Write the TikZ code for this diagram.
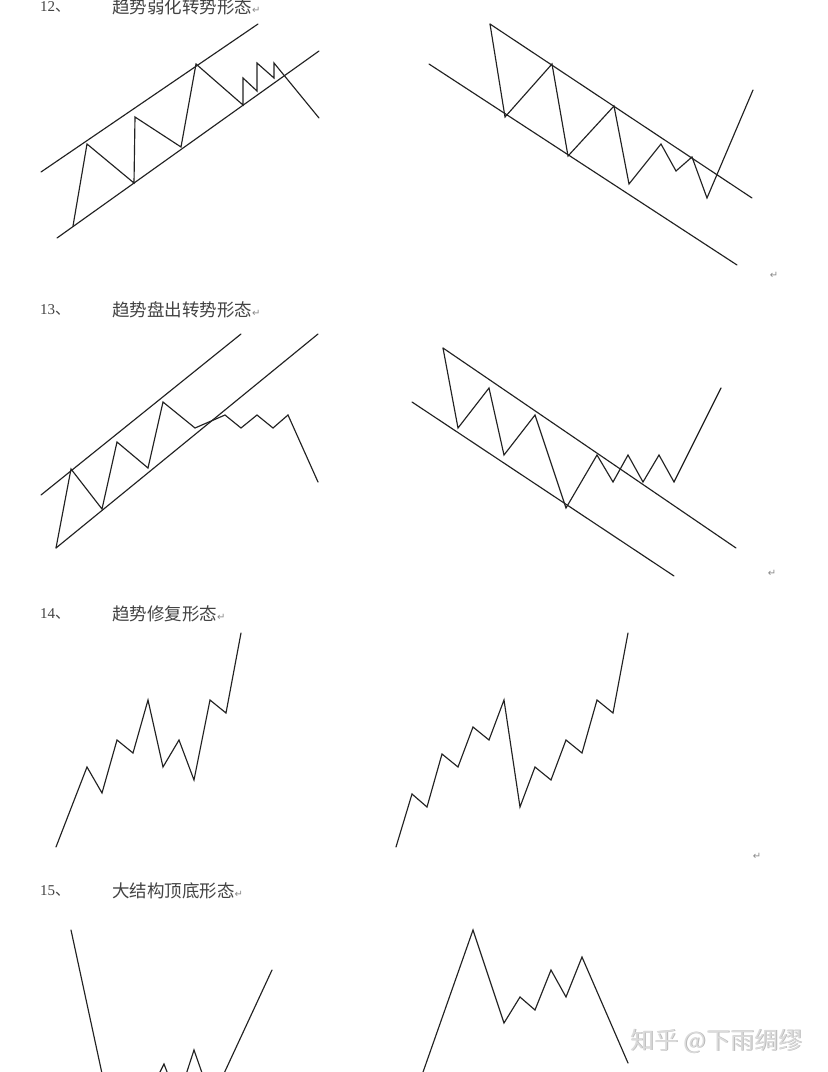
\documentclass[tikz,border=0pt]{standalone}
\usepackage{fontspec}
\newfontfamily\cjk{Noto Sans CJK SC}
\newfontfamily\numfont{Liberation Serif}
\newfontfamily\symfont{DejaVu Sans}
\definecolor{ink}{HTML}{222222}
\definecolor{mark}{HTML}{8A8A8A}
\begin{document}
\begin{tikzpicture}[x=1pt,y=-1pt,
  chan/.style={draw=ink,line width=1.15pt,line cap=round},
  wave/.style={draw=ink,line width=1.15pt,line join=miter,line cap=round},
  numlbl/.style={anchor=west,inner sep=0pt,text=ink!85,font=\numfont\fontsize{15}{15}\selectfont},
  titlelbl/.style={anchor=west,inner sep=0pt,text=ink!85,font=\cjk\fontsize{17.5}{17.5}\selectfont},
  retmark/.style={inner sep=0pt,text=mark,font=\symfont\fontsize{10}{10}\selectfont}]
\useasboundingbox (0,0) rectangle (828,1072);
\fill[white] (0,0) rectangle (828,1072);
\clip (0,0) rectangle (828,1072);

% ---------- titles ----------
\node[numlbl] (n12) at (40,7) {12{\cjk 、}};
\node[titlelbl] (t12) at (112,7) {趋势弱化转势形态{\symfont\fontsize{10}{10}\selectfont\color{mark}↵}};
\node[numlbl] (n13) at (40,310) {13{\cjk 、}};
\node[titlelbl] (t13) at (112,310) {趋势盘出转势形态{\symfont\fontsize{10}{10}\selectfont\color{mark}↵}};
\node[numlbl] (n14) at (40,614) {14{\cjk 、}};
\node[titlelbl] (t14) at (112,614) {趋势修复形态{\symfont\fontsize{10}{10}\selectfont\color{mark}↵}};
\node[numlbl] (n15) at (40,891) {15{\cjk 、}};
\node[titlelbl] (t15) at (112,891) {大结构顶底形态{\symfont\fontsize{10}{10}\selectfont\color{mark}↵}};

% ---------- 12 left ----------
\draw[chan] (41,172) -- (258,24);
\draw[chan] (57,238) -- (319,51);
\draw[wave] (73,226) -- (87,144) -- (134,183) -- (135,117) -- (181,147) -- (196,64)
  -- (243,105) -- (243,78) -- (257,91) -- (257,63) -- (274,78) -- (274,63) -- (319,118);

% ---------- 12 right ----------
\draw[chan] (490,24) -- (752,198);
\draw[chan] (429,64) -- (737,265);
\draw[wave] (490,24) -- (505,117) -- (552,64) -- (568,156) -- (614,106) -- (629,184)
  -- (661,144) -- (676,171) -- (692,157) -- (707,198) -- (753,90);
\node[retmark] (r12) at (774,275) {↵};

% ---------- 13 left ----------
\draw[chan] (41,495) -- (241,334);
\draw[chan] (56,548) -- (318,334);
\draw[wave] (56,548) -- (71,469) -- (102,509) -- (117,442) -- (148,468) -- (163,402)
  -- (195,428) -- (225,415) -- (241,428) -- (257,415) -- (273,428) -- (288,415) -- (318,482);

% ---------- 13 right ----------
\draw[chan] (443,348) -- (736,548);
\draw[chan] (412,402) -- (674,576);
\draw[wave] (443,348) -- (458,428) -- (489,388) -- (504,455) -- (535,415) -- (566,508)
  -- (597,455) -- (613,482) -- (628,455) -- (643,482) -- (659,455) -- (674,482) -- (721,388);
\node[retmark] (r13) at (772,573) {↵};

% ---------- 14 left ----------
\draw[wave] (56,847) -- (87,767) -- (102,793) -- (117,740) -- (133,753) -- (148,700)
  -- (163,767) -- (179,740) -- (194,780) -- (210,700) -- (226,713) -- (241,633);

% ---------- 14 right ----------
\draw[wave] (396,847) -- (412,794) -- (427,807) -- (442,754) -- (458,767) -- (473,727)
  -- (489,740) -- (504,700) -- (520,807) -- (535,767) -- (551,780) -- (566,740)
  -- (582,753) -- (597,700) -- (613,713) -- (628,633);
\node[retmark] (r14) at (757,856) {↵};

% ---------- 15 left ----------
\draw[wave] (71,930) -- (106,1092) -- (150,1092) -- (164,1064) -- (174,1090)
  -- (181,1090) -- (194,1050) -- (208,1090) -- (214,1095) -- (272,970);

% ---------- 15 right ----------
\draw[wave] (416,1092) -- (473,930) -- (504,1023) -- (520,997) -- (535,1010) -- (551,970)
  -- (566,997) -- (582,957) -- (628,1063);

% ---------- watermark ----------
\node[inner sep=0pt,anchor=west,text=gray!55,font=\cjk\fontsize{24}{24}\selectfont] (wms) at (630.8,1041.8) {知乎 @下雨绸缪};
\node[inner sep=0pt,anchor=west,text=gray!28,font=\cjk\fontsize{24}{24}\selectfont] (wm) at (630,1041) {知乎 @下雨绸缪};
\end{tikzpicture}
\end{document}
